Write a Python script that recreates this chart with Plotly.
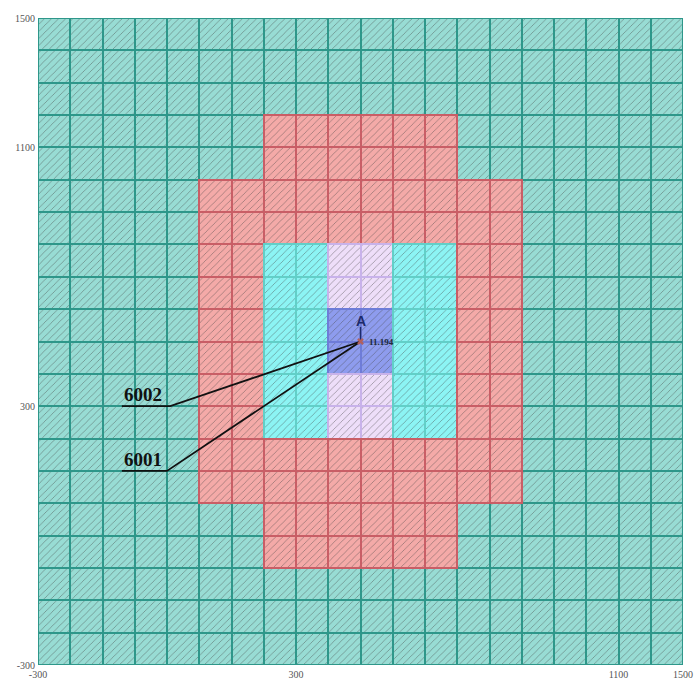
import plotly.graph_objects as go

# Zone map of the 20 x 20 receptor grid, listed from the top row down.
# '.' background, 'r' outer band, 'c' inner band, 'l' near band, 'b' core
zone_rows = [
    "....................",
    "....................",
    "....................",
    ".......rrrrrr.......",
    ".......rrrrrr.......",
    ".....rrrrrrrrrr.....",
    ".....rrrrrrrrrr.....",
    ".....rrccllccrr.....",
    ".....rrccllccrr.....",
    ".....rrccbbccrr.....",
    ".....rrccbbccrr.....",
    ".....rrccllccrr.....",
    ".....rrccllccrr.....",
    ".....rrrrrrrrrr.....",
    ".....rrrrrrrrrr.....",
    ".......rrrrrr.......",
    ".......rrrrrr.......",
    "....................",
    "....................",
    "....................",
]

x_tick_pos = [0, 8, 18, 20]
x_tick_text = ["-300", "300", "1100", "1500"]
y_tick_pos = [0, 8, 16, 20]
y_tick_text = ["-300", "300", "1100", "1500"]

# Source location and peak value
source_x, source_y = 10, 10
source_name = "A"
peak_label = "11.194"

# Leader-line callouts: label, underline start/end x, underline y
callout_names = ["6002", "6001"]
callout_x0 = [2.6, 2.6]
callout_x1 = [4.1, 4.0]
callout_y = [8.0, 6.0]

zone_fill = {".": "#98dcd4", "r": "#f4aaa8", "c": "#8cf4f4", "l": "#eedef9", "b": "#8e9cee"}
zone_hatch = {".": "#7ccabf", "r": "#e39696", "c": "#72e2e2", "l": "#d4c2f0", "b": "#7888e2"}
zone_line = {".": "#2e978a", "r": "#c95e66", "c": "#62cfc8", "l": "#c8b2ea", "b": "#6e7cd8"}

n_rows = len(zone_rows)
xs, bases, fills, hatches, lines = [], [], [], [], []
for i, row in enumerate(zone_rows):
    r = n_rows - 1 - i
    for c, z in enumerate(row):
        xs.append(c + 0.5)
        bases.append(r)
        fills.append(zone_fill[z])
        hatches.append(zone_hatch[z])
        lines.append(zone_line[z])

fig = go.Figure()

# Draw background cells first, then coloured zones so their borders sit on top
order = sorted(range(len(xs)), key=lambda k: 0 if fills[k] == zone_fill["."] else 1)
fig.add_trace(go.Bar(
    x=[xs[k] for k in order],
    y=[1] * len(order),
    base=[bases[k] for k in order],
    width=1,
    marker=dict(
        color=[fills[k] for k in order],
        line=dict(color=[lines[k] for k in order], width=2),
        pattern=dict(shape="/", fgcolor=[hatches[k] for k in order],
                     size=5, solidity=0.16, fillmode="overlay"),
    ),
    hoverinfo="skip",
    showlegend=False,
))

# Callout leader lines
for name, x0, x1, yy in zip(callout_names, callout_x0, callout_x1, callout_y):
    fig.add_trace(go.Scatter(
        x=[x0, x1, source_x], y=[yy, yy, source_y],
        mode="lines", line=dict(color="#111111", width=1.8),
        hoverinfo="skip", showlegend=False,
    ))
    fig.add_annotation(
        x=x0, y=yy, text=f"<b>{name}</b>", showarrow=False,
        xanchor="left", yanchor="bottom", yshift=-1,
        font=dict(family="Liberation Serif", size=19, color="#111111"),
    )

# Source stem, symbol and value
fig.add_trace(go.Scatter(
    x=[source_x, source_x], y=[source_y, source_y + 0.45],
    mode="lines", line=dict(color="#1c2a6a", width=1.5),
    hoverinfo="skip", showlegend=False,
))
fig.add_trace(go.Scatter(
    x=[source_x], y=[source_y],
    mode="markers", marker=dict(symbol="x", size=6, color="#b06060"),
    hoverinfo="skip", showlegend=False,
))
fig.add_annotation(
    x=source_x, y=source_y + 0.4, text=f"<b>{source_name}</b>", showarrow=False,
    yanchor="bottom", yshift=-2,
    font=dict(family="Liberation Sans", size=14, color="#1c2a6a"),
)
fig.add_annotation(
    x=source_x + 0.2, y=source_y, text=f"<b>{peak_label}</b>", showarrow=False,
    xanchor="left", yanchor="middle",
    font=dict(family="Liberation Serif", size=9, color="#1c2a3a"),
)

tick_font = dict(family="Liberation Serif", size=10, color="#555555")
fig.update_layout(
    width=700, height=680,
    margin=dict(l=38, r=17, t=18, b=15),
    paper_bgcolor="white", plot_bgcolor="white",
    barmode="overlay", bargap=0,
    xaxis=dict(range=[0, 20], showgrid=False, zeroline=False, automargin=False,
               tickvals=x_tick_pos, ticktext=x_tick_text, ticks="",
               ticklabelstandoff=2, tickfont=tick_font),
    yaxis=dict(range=[0, 20], showgrid=False, zeroline=False, automargin=False,
               tickvals=y_tick_pos, ticktext=y_tick_text, ticks="",
               ticklabelstandoff=2, tickfont=tick_font),
)

fig.write_html("out.html")
